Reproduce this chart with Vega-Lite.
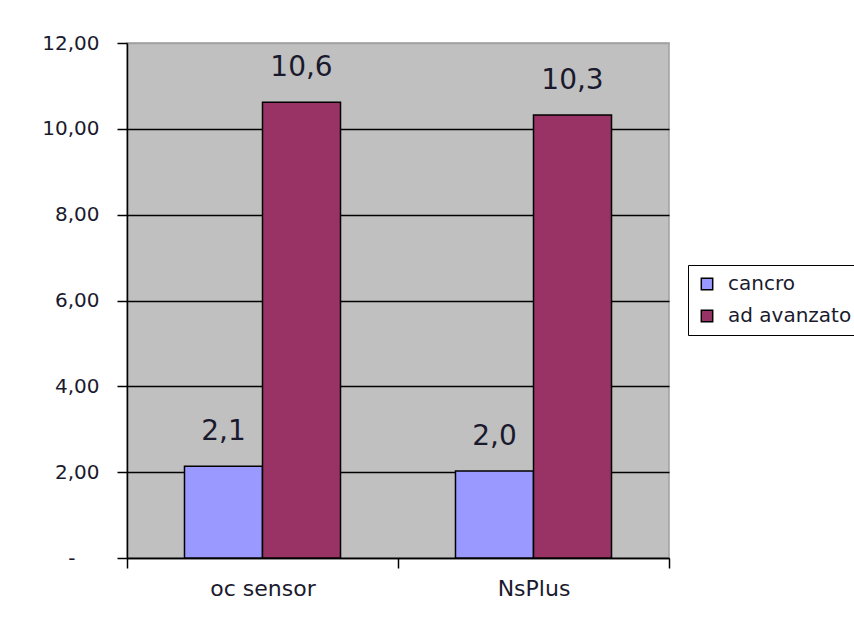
{
  "$schema": "https://vega.github.io/schema/vega-lite/v6.json",
  "width": 542,
  "height": 515,
  "autosize": "none",
  "padding": {"left": 127, "top": 43, "right": 185, "bottom": 66},
  "background": "white",
  "data": {
    "values": [
      {"strumento": "oc sensor", "serie": "cancro", "valore": 2.14},
      {"strumento": "oc sensor", "serie": "ad avanzato", "valore": 10.62},
      {"strumento": "NsPlus", "serie": "cancro", "valore": 2.03},
      {"strumento": "NsPlus", "serie": "ad avanzato", "valore": 10.32}
    ]
  },
  "encoding": {
    "x": {
      "field": "strumento", "type": "nominal", "sort": null,
      "scale": {"paddingInner": 0, "paddingOuter": 0},
      "axis": {
        "title": null, "labelAngle": 0, "tickBand": "extent",
        "domainColor": "black", "domainWidth": 1.5,
        "tickColor": "black", "tickSize": 10, "tickWidth": 1.5,
        "labelFont": "DejaVu Sans", "labelFontSize": 22, "labelColor": "#1a1a2e",
        "labelPadding": 10, "grid": false
      }
    },
    "xOffset": {
      "field": "serie", "type": "nominal", "sort": ["cancro", "ad avanzato"],
      "scale": {"paddingInner": 0, "paddingOuter": 0.737}
    },
    "y": {
      "field": "valore", "type": "quantitative",
      "scale": {"domain": [0, 12], "nice": false},
      "axis": {
        "title": null, "values": [0, 2, 4, 6, 8, 10, 12],
        "labelExpr": "datum.value == 0 ? '-' : replace(format(datum.value, '.2f'), '.', ',')",
        "domainColor": "black", "domainWidth": 1.5,
        "tickColor": "black", "tickSize": 10, "tickWidth": 1.5,
        "labelFont": "DejaVu Sans", "labelFontSize": 20, "labelColor": "#1a1a2e",
        "labelPadding": {"condition": {"test": "datum.value == 0", "value": 42}, "value": 18},
        "grid": true,
        "gridColor": {"condition": {"test": "datum.value == 12", "value": "#a0a0a0"}, "value": "black"},
        "gridWidth": 1.5
      }
    }
  },
  "layer": [
    {
      "mark": {"type": "bar", "stroke": "black", "strokeWidth": 1.5},
      "encoding": {
        "color": {
          "field": "serie", "type": "nominal", "sort": ["cancro", "ad avanzato"],
          "scale": {"domain": ["cancro", "ad avanzato"], "range": ["#9999ff", "#993366"]},
          "legend": {
            "title": null, "orient": "none", "legendX": 561, "legendY": 222,
            "strokeColor": "black", "fillColor": "white",
            "padding": 9, "symbolType": "square", "symbolSize": 130,
            "symbolStrokeColor": "black", "symbolStrokeWidth": 1.5,
            "labelFont": "DejaVu Sans", "labelFontSize": 20, "labelColor": "#1a1a2e",
            "labelOffset": 11, "rowPadding": 12
          }
        }
      }
    },
    {
      "mark": {"type": "text", "baseline": "alphabetic", "dy": -26, "font": "DejaVu Sans", "fontSize": 28, "color": "#1a1a2e"},
      "encoding": {
        "text": {"field": "valore", "type": "quantitative", "format": ".1f"}
      }
    }
  ],
  "config": {
    "locale": {"number": {"decimal": ",", "thousands": ".", "grouping": [3], "currency": ["€", ""]}},
    "view": {"fill": "#c0c0c0", "stroke": "#a0a0a0", "strokeWidth": 1.5}
  }
}
